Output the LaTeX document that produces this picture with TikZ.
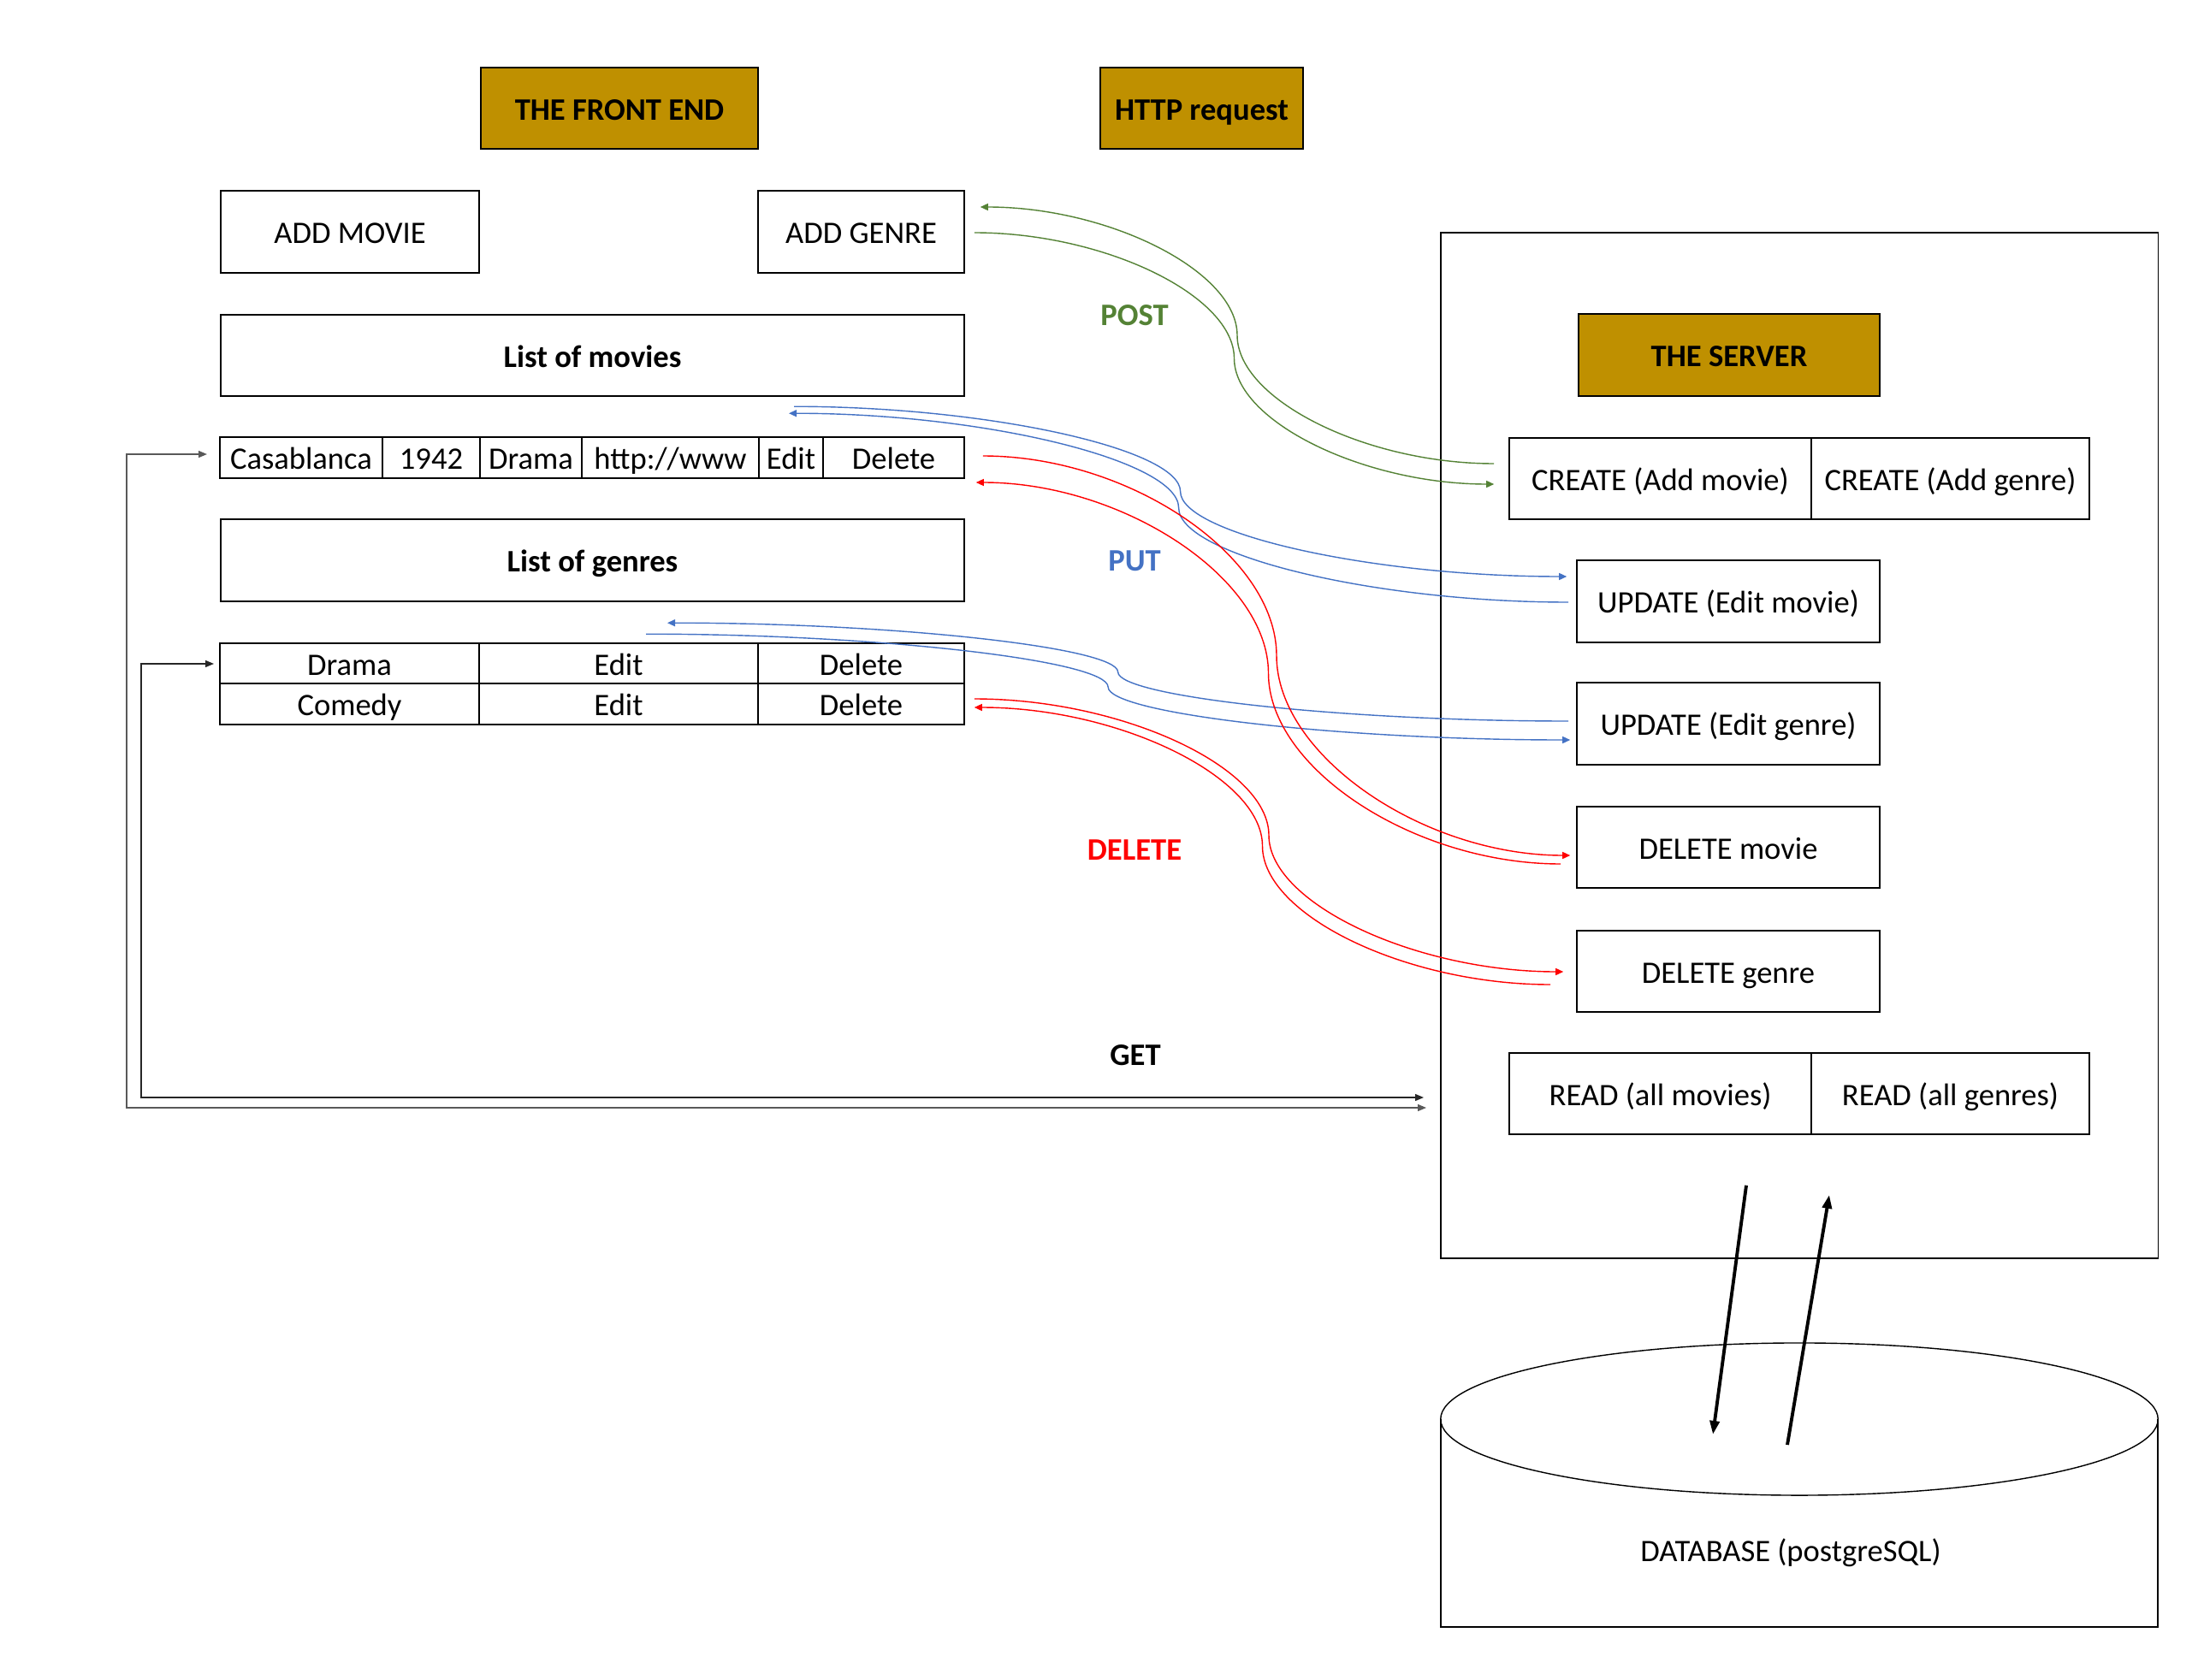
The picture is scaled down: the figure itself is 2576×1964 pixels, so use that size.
\documentclass[tikz,border=0pt]{standalone}
\usepackage{fontspec}
\setmainfont{Carlito}
\usetikzlibrary{arrows.meta,calc}
\definecolor{gold}{HTML}{BF9000}
\definecolor{postgreen}{HTML}{548235}
\definecolor{putblue}{HTML}{4472C4}
\definecolor{delred}{HTML}{FF0000}
\definecolor{getgrey}{HTML}{595959}
\begin{document}
\begin{tikzpicture}[x=0.01cm,y=-0.01cm,
  font=\fontsize{10.4}{12.5}\selectfont,
  wh/.style 2 args={minimum width=#1*0.01cm, minimum height=#2*0.01cm},
  box/.style={draw, line width=0.45pt, inner sep=0pt, text height=7.8pt, text depth=0pt, align=center},
  head/.style={box, fill=gold, font=\fontsize{10.4}{12.5}\selectfont\bfseries},
  listhead/.style={box, font=\fontsize{10.4}{12.5}\selectfont\bfseries},
  lbl/.style={inner sep=0pt, font=\fontsize{10.4}{12.5}\selectfont\bfseries},
  wire/.style={line width=0.4pt},
  fwd/.style={-{Triangle[length=0.9mm,width=0.8mm]}},
  bwd/.style={{Triangle[length=0.9mm,width=0.8mm]}-},
  getline/.style={line width=0.6pt, {Triangle[length=1mm,width=0.75mm]}-{Triangle[length=1mm,width=0.75mm]}},
  dbline/.style={line width=1.1pt, -{Triangle[length=1.6mm,width=1.1mm]}},
  % Word-style curved connector: horizontal at both ends, vertical at the middle
  sbend/.style={to path={
    let \p1=(\tikztostart), \p2=(\tikztotarget),
        \p3=({0.5*\x1+0.5*\x2},{0.5*\y1+0.5*\y2})
    in .. controls ({0.75*\x1+0.25*\x2},\y1) and (\x3,{0.75*\y1+0.25*\y2})
    .. (\p3)
    .. controls (\x3,{0.25*\y1+0.75*\y2}) and ({0.25*\x1+0.75*\x2},\y2)
    .. (\tikztotarget) \tikztonodes}}
]
\useasboundingbox (0,0) rectangle (2576,1964);

% ---------- server frame ----------
\node[draw, line width=0.3pt, inner sep=0pt, wh={838}{1199}] (server) at (2103,871.5) {};

% ---------- front end ----------
\node[head, wh={324}{95}] (front) at (724,126.5) {THE FRONT END};
\node[head, wh={237}{95}] (http) at (1404.5,126.5) {HTTP request};

\node[box, wh={302}{96}] (addmovie) at (409,271) {ADD MOVIE};
\node[box, wh={241}{96}] (addgenre) at (1006.5,271) {ADD GENRE};

\node[listhead, wh={869}{95}] (listmovies) at (692.5,415.5) {List of movies};

% movie row
\node[box, wh={190}{48}] (casa)   at (352,535)    {Casablanca};
\node[box, wh={114}{48}] (year)   at (504,535)    {1942};
\node[box, wh={119}{48}] (mgenre) at (620.5,535)  {Drama};
\node[box, wh={207}{48}] (url)    at (783.5,535)  {http://www};
\node[box, wh={75}{48}]  (medit)  at (924.5,535)  {Edit};
\node[box, wh={165}{48}] (mdel)   at (1044.5,535) {Delete};

\node[listhead, wh={869}{96}] (listgenres) at (692.5,655) {List of genres};

% genre table
\node[box, wh={303}{47}] (gname1) at (408.5,775.5) {Drama};
\node[box, wh={326}{47}] (gedit1) at (723,775.5)   {Edit};
\node[box, wh={241}{47}] (gdel1)  at (1006.5,775.5) {Delete};
\node[box, wh={303}{48}] (gname2) at (408.5,823)   {Comedy};
\node[box, wh={326}{48}] (gedit2) at (723,823)     {Edit};
\node[box, wh={241}{48}] (gdel2)  at (1006.5,823)  {Delete};

% ---------- server ----------
\node[head, wh={352}{96}] (theserver) at (2021,415) {THE SERVER};
\node[box, wh={353}{95}] (create1) at (1940.5,559.5) {CREATE (Add movie)};
\node[box, wh={325}{95}] (create2) at (2279.5,559.5) {CREATE (Add genre)};
\node[box, wh={354}{96}] (updm) at (2020,703)    {UPDATE (Edit movie)};
\node[box, wh={354}{96}] (updg) at (2020,846)    {UPDATE (Edit genre)};
\node[box, wh={354}{95}] (delm) at (2020,990.5)  {DELETE movie};
\node[box, wh={354}{95}] (delg) at (2020,1135.5) {DELETE genre};
\node[box, wh={353}{95}] (read1) at (1940.5,1278.5) {READ (all movies)};
\node[box, wh={325}{95}] (read2) at (2279.5,1278.5) {READ (all genres)};

% ---------- database ----------
\draw[line width=0.4pt] (1684,1659) -- (1684,1902) -- (2522,1902) -- (2522,1659);
\draw[line width=0.4pt] (2103,1659) ellipse [x radius=4.19cm, y radius=0.89cm];
\node[inner sep=0pt] (db) at (2093,1815) {DATABASE (postgreSQL)};

% ---------- method labels ----------
\node[lbl, text=postgreen] (post) at (1326,369) {POST};
\node[lbl, text=putblue]   (put)  at (1326,656) {PUT};
\node[lbl, text=delred]    (del)  at (1326,994) {DELETE};
\node[lbl]                 (get)  at (1327,1234) {GET};

% ---------- connector end points ----------
\coordinate (p1a) at ($(addgenre.east)+(11,1)$);
\coordinate (p1b) at ($(create1.west)+(-17,6.5)$);
\coordinate (p2a) at ($(addgenre.east)+(18,-29)$);
\coordinate (p2b) at ($(create1.west)+(-17,-17.5)$);

\coordinate (q1a) at ($(medit.north)+(3.5,-35)$);
\coordinate (q1b) at ($(updm.west)+(-11,-29)$);
\coordinate (q2a) at ($(medit.north)+(-2.5,-27)$);
\coordinate (q2b) at ($(updm.west)+(-9,1)$);

\coordinate (r1a) at ($(gedit1.north)+(57,-23)$);
\coordinate (r1b) at ($(updg.west)+(-9,-3)$);
\coordinate (r2a) at ($(gedit1.north)+(32,-10)$);
\coordinate (r2b) at ($(updg.west)+(-7,19)$);

\coordinate (s1a) at ($(mdel.east)+(21,-2)$);
\coordinate (s1b) at ($(delm.west)+(-7,9.5)$);
\coordinate (s2a) at ($(mdel.east)+(13,29)$);
\coordinate (s2b) at ($(delm.west)+(-18,19.5)$);

\coordinate (t1a) at ($(gdel2.east)+(11,-6)$);
\coordinate (t1b) at ($(delg.west)+(-15,0.5)$);
\coordinate (t2a) at ($(gdel2.east)+(11,4)$);
\coordinate (t2b) at ($(delg.west)+(-30,15.5)$);

\coordinate (g1a) at ($(casa.west)+(-14,-4)$);
\coordinate (g1b) at ($(read1.west)+(-96,16.5)$);
\coordinate (g2a) at ($(gname1.west)+(-6,0.5)$);
\coordinate (g2b) at ($(read1.west)+(-99,4.5)$);

\coordinate (d1a) at ($(read1.south)+(100.5,59)$);
\coordinate (d1b) at ($(db)+(-91,-138)$);
\coordinate (u1a) at ($(db)+(-4,-126)$);
\coordinate (u1b) at ($(read1.south)+(197.5,70)$);

% ---------- POST ----------
\draw[wire, postgreen, fwd] (p1a) to[sbend] (p1b);
\draw[wire, postgreen, bwd] (p2a) to[sbend] (p2b);

% ---------- PUT ----------
\draw[wire, putblue, fwd] (q1a) to[sbend] (q1b);
\draw[wire, putblue, bwd] (q2a) to[sbend] (q2b);
\draw[wire, putblue, bwd] (r1a) to[sbend] (r1b);
\draw[wire, putblue, fwd] (r2a) to[sbend] (r2b);

% ---------- DELETE ----------
\draw[wire, delred, fwd] (s1a) to[sbend] (s1b);
\draw[wire, delred, bwd] (s2a) to[sbend] (s2b);
\draw[wire, delred, fwd] (t1a) to[sbend] (t1b);
\draw[wire, delred, bwd] (t2a) to[sbend] (t2b);

% ---------- GET ----------
\draw[getline, getgrey] (g1a) -- ++(-94,0) |- (g1b);
\draw[getline, black!85] (g2a) -- ++(-85,0) |- (g2b);

% ---------- server <-> database ----------
\draw[dbline] (d1a) -- (d1b);
\draw[dbline] (u1a) -- (u1b);
\end{tikzpicture}
\end{document}
